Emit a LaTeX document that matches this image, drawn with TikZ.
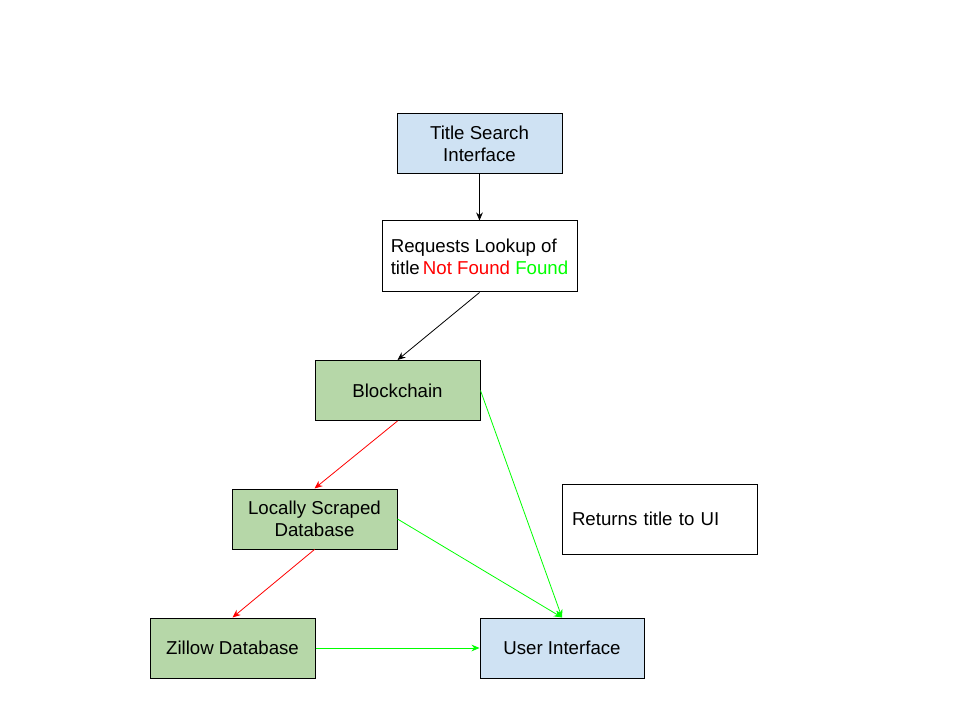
\documentclass[tikz,border=0pt]{standalone}
\usepackage{fontspec}
\setmainfont{Liberation Sans}
\usetikzlibrary{arrows.meta}
\definecolor{bluebox}{HTML}{CFE2F3}
\definecolor{greenbox}{HTML}{B6D7A8}
\definecolor{ared}{HTML}{FF0000}
\definecolor{agreen}{HTML}{00FF00}
\begin{document}
\begin{tikzpicture}[x=0.75pt,y=-0.75pt,
  box/.style={draw=black, line width=0.75pt, minimum width=123.75pt, minimum height=45pt, inner sep=0pt, align=center, font=\fontsize{14pt}{16.5pt}\selectfont},
  bluebx/.style={box, fill=bluebox},
  greenbx/.style={box, fill=greenbox},
  conn/.style={line width=0.6pt, -{Stealth[length=6pt,width=5pt]}},
]
\useasboundingbox (0,0) rectangle (960,720);
\node[bluebx] (tsi) at (479.5,144) {Title Search\\Interface};
\node[box, minimum width=146.25pt, minimum height=53.25pt, align=left] (req) at (479.5,256.5) {Requests Lookup of\\title\,\textcolor{ared}{Not Found} \textcolor{agreen}{Found}};
\node[greenbx] (bc) at (397.5,390.5) {Blockchain};
\node[greenbx] (lsd) at (314.5,519) {Locally Scraped\\Database};
\node[greenbx] (zd) at (232.5,648) {Zillow Database};
\node[bluebx, minimum width=123pt] (ui) at (562,648) {User Interface};
\node[box, minimum width=146.25pt, minimum height=52.5pt, text width=131.25pt, align=left] (ret) at (659.5,519) {Returns title to UI};
\draw[conn, black] (tsi.south) -- (req.north);
\draw[conn, black] (req.south) -- (bc.north);
\draw[conn, ared] (bc.south) -- (lsd.north);
\draw[conn, ared] (lsd.south) -- (zd.north);
\draw[conn, agreen] (bc.east) -- (ui.north);
\draw[conn, agreen] (lsd.east) -- (ui.north);
\draw[conn, agreen] (zd.east) -- (ui.west);
\end{tikzpicture}
\end{document}
